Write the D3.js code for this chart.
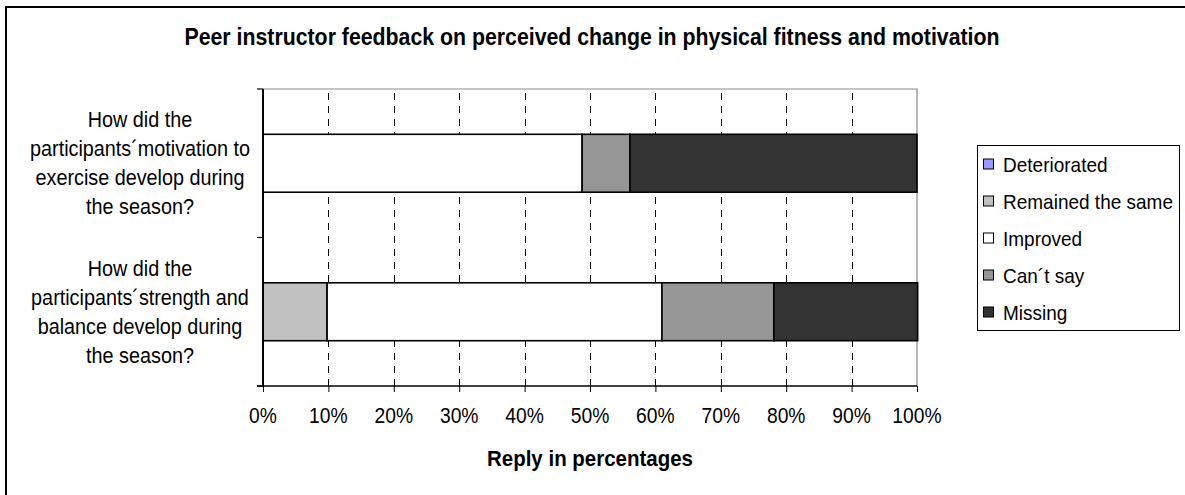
<!DOCTYPE html>
<html>
<head>
<meta charset="utf-8">
<script src="https://cdn.jsdelivr.net/npm/d3@7"></script>
<style>
  body { margin: 0; background: #fff; }
  text { font-family: Arial, "Liberation Sans", sans-serif; fill: #000; }
</style>
</head>
<body>
<svg id="chart" width="1185" height="495"></svg>
<script>
// ---- data ----
const categories = [
  "How did the participants´motivation to exercise develop during the season?",
  "How did the participants´strength and balance develop during the season?"
];
const categoryLines = [
  ["How did the", "participants´motivation to", "exercise develop during", "the season?"],
  ["How did the", "participants´strength and", "balance develop during", "the season?"]
];
const seriesNames = ["Deteriorated", "Remained the same", "Improved", "Can´t say", "Missing"];
const seriesColors = ["#9999FF", "#C0C0C0", "#FFFFFF", "#969696", "#333333"];
const deteriorated = [0, 0];
const remainedSame = [0, 9.8];
const improved = [48.8, 51.2];
const cantSay = [7.3, 17.1];
const missing = [43.9, 22.0];
const xTicks = [0, 10, 20, 30, 40, 50, 60, 70, 80, 90, 100];
const chartTitle = "Peer instructor feedback on perceived change in physical fitness and motivation";
const xAxisTitle = "Reply in percentages";

// ---- layout ----
const svg = d3.select("#chart");
const plot = { left: 263, right: 917, top: 89, bottom: 386 };
const stretch = 1.1;

const rows = categories.map((c, i) => ({
  category: c,
  [seriesNames[0]]: deteriorated[i],
  [seriesNames[1]]: remainedSame[i],
  [seriesNames[2]]: improved[i],
  [seriesNames[3]]: cantSay[i],
  [seriesNames[4]]: missing[i]
}));

const x = d3.scaleLinear().domain([0, 100]).range([plot.left, plot.right]);
const y = d3.scaleBand().domain(categories).range([plot.top, plot.bottom])
  .paddingInner(0.61).paddingOuter(0.305);
const color = d3.scaleOrdinal().domain(seriesNames).range(seriesColors);

function label(g, str, tx, ty, anchor, size, bold) {
  return g.append("text")
    .attr("transform", `translate(${tx},${ty}) scale(1,${stretch})`)
    .attr("text-anchor", anchor)
    .attr("font-size", size)
    .attr("font-weight", bold ? "bold" : "normal")
    .text(str);
}

// outer frame
svg.append("rect")
  .attr("x", 6).attr("y", 7).attr("width", 1200).attr("height", 500)
  .attr("fill", "#fff").attr("stroke", "#000").attr("stroke-width", 2);

// title
label(svg, chartTitle, 592, 45, "middle", 21.3, true);

// plot area border (top and right)
svg.append("path")
  .attr("d", `M${plot.left},${plot.top}H${plot.right}V${plot.bottom}`)
  .attr("fill", "none").attr("stroke", "#8a8a8a").attr("stroke-width", 1.2);

// dashed vertical gridlines
svg.append("g").selectAll("line")
  .data(xTicks.filter(t => t > 0 && t < 100))
  .join("line")
  .attr("x1", d => Math.round(x(d)) + 0.5).attr("x2", d => Math.round(x(d)) + 0.5)
  .attr("y1", plot.bottom).attr("y2", plot.top)
  .attr("stroke", "#000").attr("stroke-width", 1)
  .attr("stroke-dasharray", "7,6");

// stacked bars
const stack = d3.stack().keys(seriesNames);
const layers = stack(rows);
svg.append("g").selectAll("g")
  .data(layers)
  .join("g")
  .attr("fill", d => color(d.key))
  .selectAll("rect")
  .data(d => d.filter(s => s[1] - s[0] > 0))
  .join("rect")
  .attr("x", d => x(d[0]))
  .attr("width", d => x(d[1]) - x(d[0]))
  .attr("y", d => y(d.data.category))
  .attr("height", y.bandwidth())
  .attr("stroke", "#000").attr("stroke-width", 1.6);

// x axis
const xAxis = d3.axisBottom(x).tickValues(xTicks).tickSize(6).tickFormat("");
const gx = svg.append("g").attr("transform", `translate(0,${plot.bottom})`).call(xAxis);
gx.select(".domain").remove();
gx.selectAll(".tick line").attr("stroke", "#000");
svg.append("line")
  .attr("x1", plot.left - 6).attr("x2", plot.right)
  .attr("y1", plot.bottom).attr("y2", plot.bottom)
  .attr("stroke", "#000").attr("stroke-width", 1.5);
const xl = svg.append("g");
xTicks.forEach(t => label(xl, t + "%", x(t), 423, "middle", 19.3, false));
label(svg, xAxisTitle, 590, 466, "middle", 20.5, true);

// y axis: line and category boundary ticks
svg.append("line")
  .attr("x1", plot.left).attr("x2", plot.left)
  .attr("y1", plot.top).attr("y2", plot.bottom)
  .attr("stroke", "#000").attr("stroke-width", 2);
const boundaries = d3.range(categories.length + 1).map(i => plot.top + i * (plot.bottom - plot.top) / categories.length);
svg.append("g").selectAll("line")
  .data(boundaries)
  .join("line")
  .attr("x1", plot.left - 6).attr("x2", plot.left)
  .attr("y1", d => d).attr("y2", d => d)
  .attr("stroke", "#000").attr("stroke-width", 1.2);

// category labels
const yl = svg.append("g");
categories.forEach((c, i) => {
  const mid = y(c) + y.bandwidth() / 2;
  const lines = categoryLines[i];
  const lh = 29;
  const first = mid - (lines.length - 1) * lh / 2 + 7.5;
  lines.forEach((ln, j) => label(yl, ln, 140, first + j * lh, "middle", 19.8, false));
});

// legend
const legend = svg.append("g");
legend.append("rect")
  .attr("x", 977.5).attr("y", 145.5).attr("width", 202).attr("height", 185)
  .attr("fill", "#fff").attr("stroke", "#000").attr("stroke-width", 1);
seriesNames.forEach((name, i) => {
  const cy = 164 + i * 37;
  legend.append("rect")
    .attr("x", 983.5).attr("y", cy - 5).attr("width", 10).attr("height", 10)
    .attr("fill", color(name)).attr("stroke", "#000").attr("stroke-width", 1);
  label(legend, name, 1003, cy + 7.5, "start", 19, false);
});
</script>
</body>
</html>
